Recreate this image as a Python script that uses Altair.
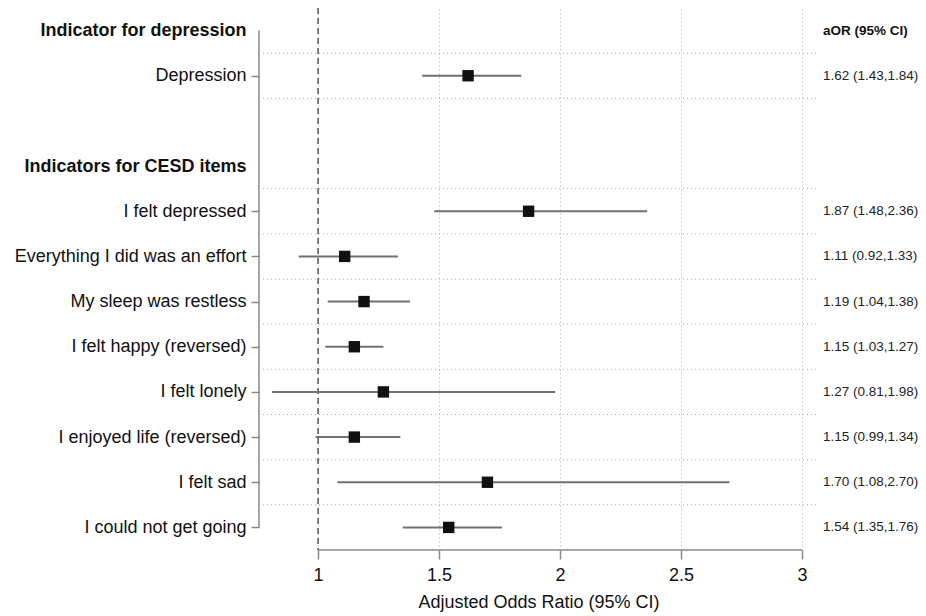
import json
import altair as alt
import pandas as pd

# ---- data ----
row_labels = ["Indicator for depression", "Depression", "", "Indicators for CESD items",
              "I felt depressed", "Everything I did was an effort", "My sleep was restless",
              "I felt happy (reversed)", "I felt lonely", "I enjoyed life (reversed)",
              "I felt sad", "I could not get going"]
header_rows = [0, 3]
data_rows = [1, 4, 5, 6, 7, 8, 9, 10, 11]
aor = [1.62, 1.87, 1.11, 1.19, 1.15, 1.27, 1.15, 1.70, 1.54]
ci_lo = [1.43, 1.48, 0.92, 1.04, 1.03, 0.81, 0.99, 1.08, 1.35]
ci_hi = [1.84, 2.36, 1.33, 1.38, 1.27, 1.98, 1.34, 2.70, 1.76]
x_ticks = [1, 1.5, 2, 2.5, 3]
ref_value = [1]
col_header = "aOR (95% CI)"
x_title = "Adjusted Odds Ratio (95% CI)"

W, H = 559, 542
FONT = "Liberation Sans"

df = pd.DataFrame({"row": data_rows, "aor": aor, "lo": ci_lo, "hi": ci_hi})
df["txt"] = [f"{a:.2f} ({l:.2f},{h:.2f})" for a, l, h in zip(aor, ci_lo, ci_hi)]

seps = sorted(set([r - 0.5 for r in data_rows] + [r + 0.5 for r in data_rows[:-1]]))
sep_df = pd.DataFrame({"y": seps})
yline_df = pd.DataFrame({"y0": [0], "y1": [len(row_labels) - 1]})
xline_df = pd.DataFrame({"a": [min(x_ticks)], "b": [max(x_ticks)]})
ref_df = pd.DataFrame({"v": ref_value})
hdr_df = pd.DataFrame({"row": [0], "txt": [col_header]})

xs = alt.Scale(domain=[0.756, 3.066], nice=False, zero=False)
ys = alt.Scale(domain=[-0.5, 11.5], reverse=True, nice=False, zero=False)

hdr_test = " || ".join(f"datum.value == {h}" for h in header_rows)
xaxis = alt.Axis(values=x_ticks, format="~g", grid=True, gridDash=[1, 3], gridColor="#aaaaaa",
                 gridWidth=1, domain=False, tickSize=9, tickColor="#888888", tickWidth=1.5,
                 labelFontSize=18, labelColor="#111111", labelPadding=7, labelFlush=False,
                 title=x_title, titleFontSize=18, titleFontWeight="normal", titleColor="#111111",
                 titlePadding=9)
yaxis = alt.Axis(values=sorted(header_rows + data_rows),
                 labelExpr=f"{json.dumps(row_labels)}[datum.value]",
                 domain=False, grid=False, tickSize=8, tickColor="#888888", tickWidth=1.5,
                 tickOpacity={"condition": {"test": hdr_test, "value": 0}, "value": 1},
                 labelFontWeight={"condition": {"test": hdr_test, "value": "bold"}, "value": "normal"},
                 labelFontSize=18, labelColor="#111111", labelPadding=5, labelOverlap=False,
                 labelLimit=400, title=None)


def X(f):
    return alt.X(f, type="quantitative", scale=xs, axis=xaxis)


def Y(f):
    return alt.Y(f, type="quantitative", scale=ys, axis=yaxis)


hgrid = alt.Chart(sep_df).mark_rule(color="#aaaaaa", strokeDash=[1, 3], strokeWidth=1).encode(
    y=Y("y"), x=alt.value(4), x2=alt.value(W))

refline = alt.Chart(ref_df).mark_rule(color="#555555", strokeDash=[6, 4], strokeWidth=1.5).encode(
    x=X("v"), y=alt.value(0), y2=alt.value(H))

yline = alt.Chart(yline_df).mark_rule(color="#888888", strokeWidth=1.5).encode(
    x=alt.value(0), y=Y("y0"), y2="y1")

xline = alt.Chart(xline_df).mark_rule(color="#888888", strokeWidth=1.5).encode(
    x=X("a"), x2="b", y=alt.value(H))

ci = alt.Chart(df).mark_rule(color="#707070", strokeWidth=2).encode(
    x=X("lo"), x2="hi", y=Y("row"))

pts = alt.Chart(df).mark_square(size=130, color="#111111", opacity=1).encode(
    x=X("aor"), y=Y("row"))

txt = alt.Chart(df).mark_text(align="left", baseline="middle", fontSize=13.5, color="#222222",
                              font=FONT).encode(
    x=alt.value(W + 5), y=Y("row"), text="txt:N")

hdr = alt.Chart(hdr_df).mark_text(align="left", baseline="middle", fontSize=13.5, fontWeight="bold",
                                  color="#111111", font=FONT).encode(
    x=alt.value(W + 5), y=Y("row"), text="txt:N")

chart = alt.layer(hgrid, refline, yline, xline, ci, pts, txt, hdr).properties(
    width=W, height=H,
    autosize=alt.AutoSizeParams(type="none"),
    padding={"left": 251, "top": 0, "right": 100, "bottom": 66},
).configure(font=FONT).configure_view(stroke=None, strokeWidth=0)

chart.save("out.html", embed_options={"renderer": "svg", "actions": False})
